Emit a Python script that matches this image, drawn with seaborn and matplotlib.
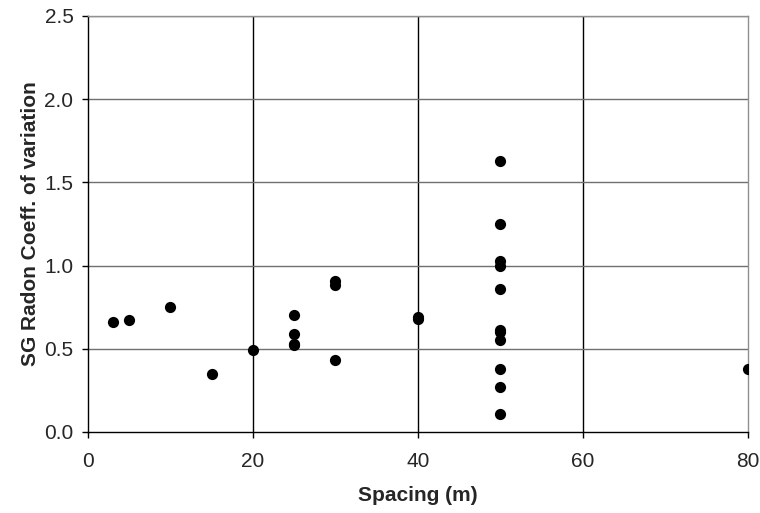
import numpy as np
import pandas as pd
import seaborn as sns
import matplotlib
matplotlib.use("Agg")
import matplotlib.pyplot as plt

# Values
spacing = [3, 5, 10, 15, 20, 25, 25, 25, 25, 30, 30, 30, 40, 40,
           50, 50, 50, 50, 50, 50, 50, 50, 50, 50, 50, 80]
coeff_var = [0.66, 0.67, 0.75, 0.35, 0.49, 0.70, 0.59, 0.53, 0.52, 0.91, 0.88, 0.43, 0.68, 0.69,
             1.63, 1.25, 1.03, 1.00, 0.86, 0.61, 0.60, 0.55, 0.38, 0.27, 0.11, 0.38]
x_ticks = [0, 20, 40, 60, 80]
y_ticks = [0.0, 0.5, 1.0, 1.5, 2.0, 2.5]

df = pd.DataFrame({"spacing": spacing, "cv": coeff_var})

sns.set_style("white")
plt.rcParams['font.family'] = ['Liberation Sans', 'DejaVu Sans']

fig = plt.figure(figsize=(7.6, 5.13), dpi=100)
ax = fig.add_axes([0.1158, 0.158, 0.868, 0.811])

# grid first so points sit on top
for xv in x_ticks[1:-1]:
    ax.axvline(xv, color="black", lw=1, zorder=1)
for yv in y_ticks[1:]:
    ax.axhline(yv, color="#707070", lw=1, zorder=1)

sns.scatterplot(data=df, x="spacing", y="cv", ax=ax, color="black",
                s=65, edgecolor="black", linewidth=0, zorder=3, legend=False)

ax.set_xlim(0, 80)
ax.set_ylim(0, 2.5)
ax.set_xticks(x_ticks)
ax.set_yticks(y_ticks)
ax.set_yticklabels(["{:.1f}".format(v) for v in y_ticks])
ax.tick_params(axis="both", direction="out", length=4.5, width=1, labelsize=15,
               bottom=True, left=True, color="black")
ax.tick_params(axis="x", pad=10)
ax.tick_params(axis="y", pad=6)

for side in ["left", "bottom"]:
    ax.spines[side].set_color("black")
    ax.spines[side].set_linewidth(1)
for side in ["top", "right"]:
    ax.spines[side].set_color("#909090")
    ax.spines[side].set_linewidth(1)

ax.set_xlabel("Spacing (m)", fontsize=15, fontweight="bold", labelpad=11)
ax.set_ylabel("SG Radon Coeff. of variation", fontsize=15, fontweight="bold", labelpad=3)

plt.savefig("out.png", dpi=100)
